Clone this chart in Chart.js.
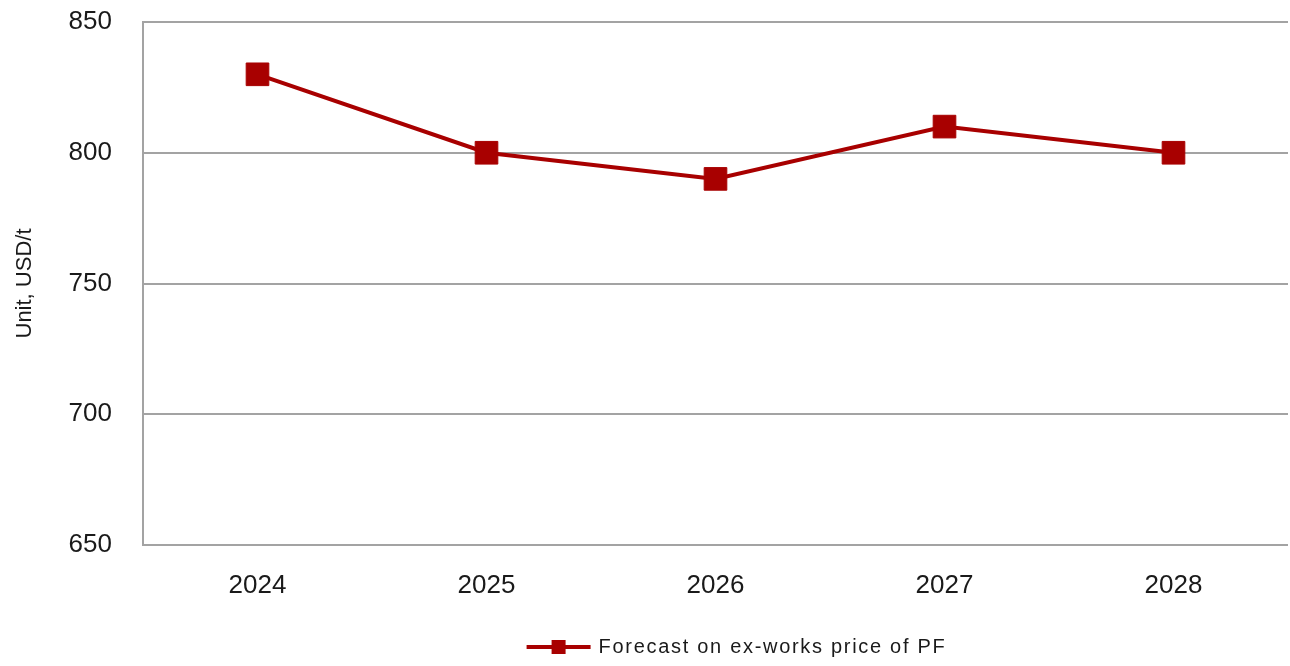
<!DOCTYPE html>
<html>
<head>
<meta charset="utf-8">
<script src="https://cdn.jsdelivr.net/npm/chart.js@4/dist/chart.umd.min.js"></script>
<style>
	html, body { margin: 0; padding: 0; background: #fff; overflow: hidden; }
	#wrap { width: 1290px; height: 666px; }
	#chart { display: block; }
</style>
</head>
<body>
<div id="wrap"><canvas id="chart"></canvas></div>
<script>
const years = ['2024', '2025', '2026', '2027', '2028'];
const prices = [830, 800, 790, 810, 800];
const yTicks = [650, 700, 750, 800, 850];
const seriesName = 'Forecast on ex-works price of PF';
const yTitle = 'Unit, USD/t';

const red = '#a80000';
const gridGray = '#a3a3a3';
const fontFamily = '"Liberation Sans", Arial, sans-serif';

// legend drawn by hand: line with a square marker, then the label
const bottomLegend = {
	id: 'bottomLegend',
	afterDraw(chart) {
		const ctx = chart.ctx;
		const y = 647;
		ctx.save();
		ctx.font = '20px ' + fontFamily;
		ctx.letterSpacing = '1.7px';
		const textW = ctx.measureText(seriesName).width;
		const lineW = 64;
		const gap = 8;
		const center = (chart.chartArea.left + chart.chartArea.right) / 2 + 21;
		const x0 = center - (lineW + gap + textW) / 2;

		ctx.strokeStyle = red;
		ctx.lineWidth = 4;
		ctx.beginPath();
		ctx.moveTo(x0, y);
		ctx.lineTo(x0 + lineW, y);
		ctx.stroke();
		ctx.fillStyle = red;
		ctx.fillRect(x0 + lineW / 2 - 7, y - 7, 14, 14);

		ctx.fillStyle = '#1a1a1a';
		ctx.textBaseline = 'middle';
		ctx.textAlign = 'left';
		ctx.fillText(seriesName, x0 + lineW + gap, y);
		ctx.restore();
	}
};

document.addEventListener('DOMContentLoaded', function () {
	const ctx = document.querySelector('#chart').getContext('2d');

	new Chart(ctx, {
		type: 'line',
		data: {
			labels: years,
			datasets: [{
				label: seriesName,
				data: prices,
				borderColor: red,
				backgroundColor: red,
				borderWidth: 4,
				pointStyle: 'rect',
				pointRadius: 16,
				pointHoverRadius: 16,
				pointBorderWidth: 1,
				pointBackgroundColor: red,
				pointBorderColor: red,
				tension: 0,
				fill: false
			}]
		},
		options: {
			responsive: true,
			maintainAspectRatio: false,
			animation: false,
			layout: {
				autoPadding: false,
				padding: { top: 22, right: 2, bottom: 61, left: 0 }
			},
			plugins: {
				legend: { display: false },
				tooltip: { enabled: false }
			},
			scales: {
				x: {
					offset: true,
					grid: { display: false },
					border: { display: false },
					ticks: {
						color: '#1a1a1a',
						padding: 17,
						font: { family: fontFamily, size: 26 }
					},
					afterFit(scale) {
						scale.height = 60;
						scale.paddingLeft = 0;
						scale.paddingRight = 0;
					}
				},
				y: {
					min: 650,
					max: 850,
					afterBuildTicks(scale) {
						scale.ticks = yTicks.map(v => ({ value: v }));
					},
					grid: { color: gridGray, lineWidth: 2, drawTicks: false },
					border: { display: true, color: gridGray, width: 2 },
					ticks: {
						color: '#1a1a1a',
						padding: 31,
						font: { family: fontFamily, size: 26 }
					},
					title: {
						display: true,
						text: yTitle,
						color: '#1a1a1a',
						padding: 12,
						font: { family: fontFamily, size: 22 }
					},
					afterFit(scale) {
						scale.width = 143;
						scale.paddingTop = 0;
						scale.paddingBottom = 0;
					}
				}
			}
		},
		plugins: [bottomLegend]
	});
});
</script>
</body>
</html>
